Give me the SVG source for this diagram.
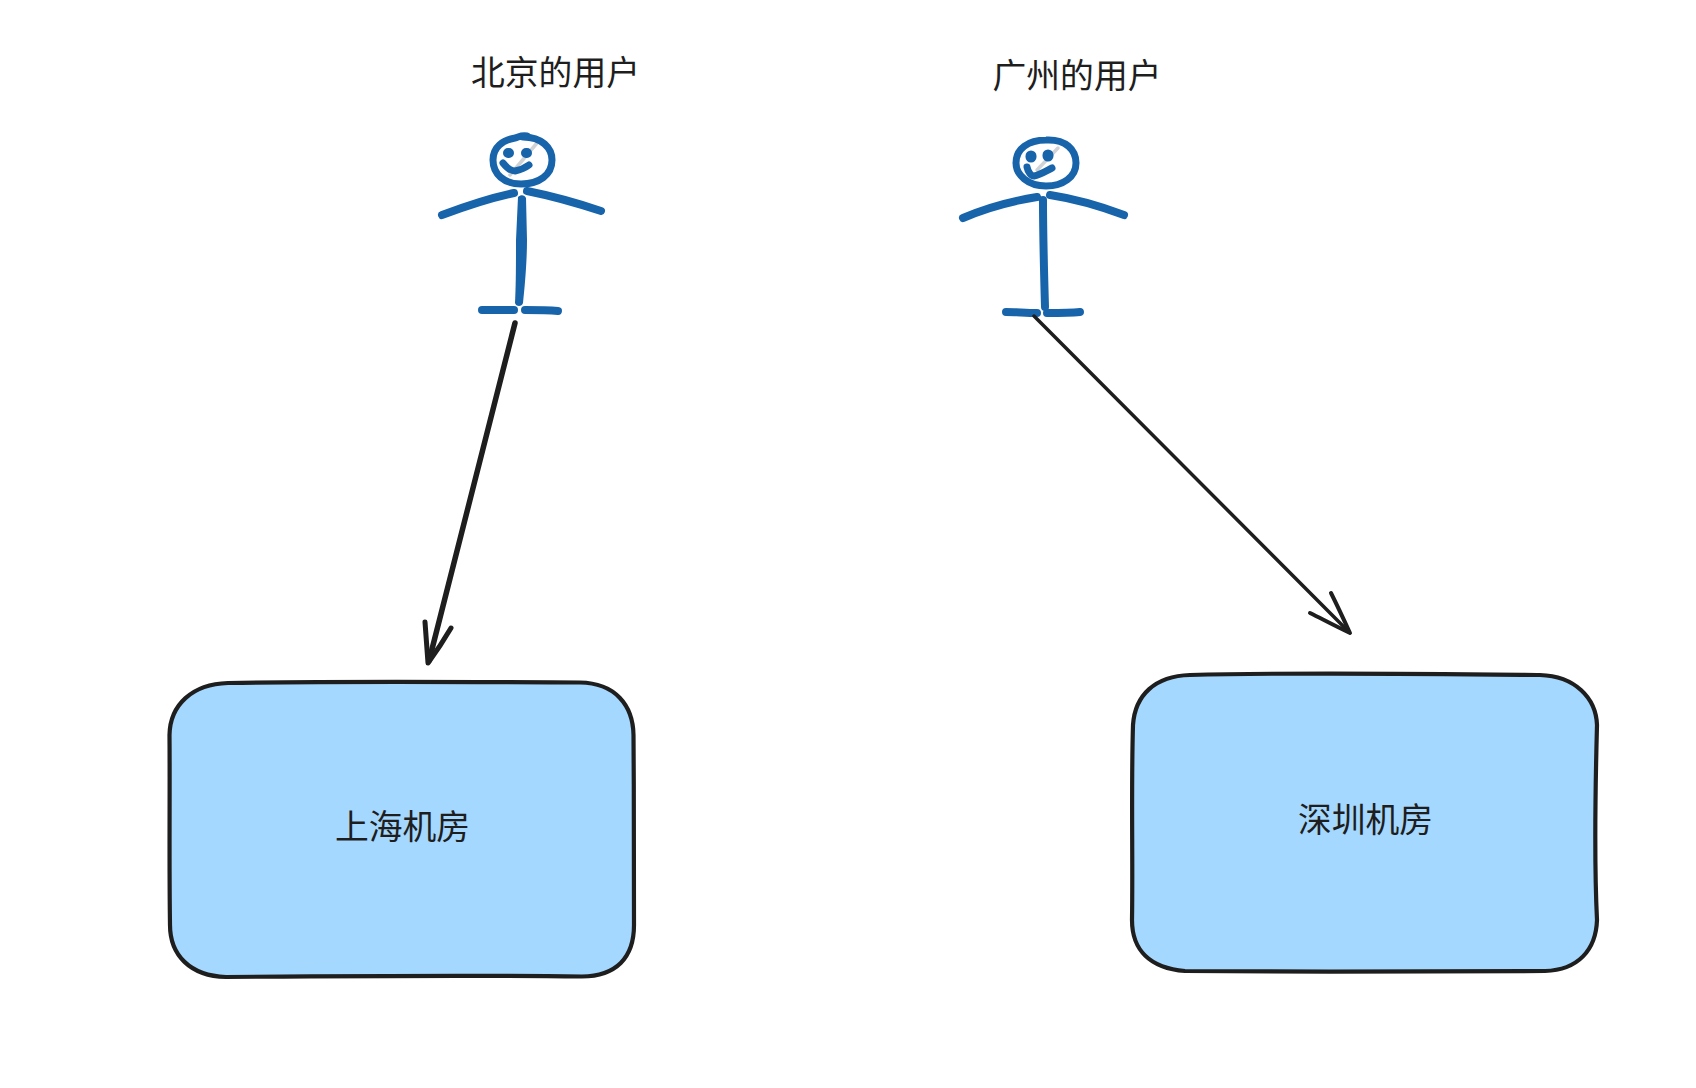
<svg xmlns="http://www.w3.org/2000/svg" width="1696" height="1088" viewBox="0 0 1696 1088">
<style>
.t{font-family:"Noto Sans CJK SC","Liberation Sans",sans-serif;font-size:33.800px;fill:#1e1e1e}
.m{text-anchor:middle}
.b{fill:none;stroke:#1864ab;stroke-width:8;stroke-linecap:round;stroke-linejoin:round}
.s{fill:none;stroke:#1864ab;stroke-width:7;stroke-linecap:round;stroke-linejoin:round}
.e{fill:none;stroke:#1864ab;stroke-width:10;stroke-linecap:round}
.g{fill:none;stroke:#d0d3d6;stroke-width:3.500;stroke-linecap:round}
.r{fill:#a5d8ff;stroke:#1e1e1e;stroke-width:4.200;stroke-linejoin:round}
.a{fill:none;stroke:#1e1e1e;stroke-linecap:round;stroke-linejoin:round}
</style>
<rect width="1696" height="1088" fill="#fff"/>
<g id="user-beijing">
<text class="t" x="471" y="85">北京的用户</text>
<path class="g" d="M537 143L510 175"/>
<path class="s" d="M523 137C542 137 552 148 552 160C552 175 539 184 521 184C504 184 493 174 493 160C493 147 503 140 515 138C519 137 521 135 527 136"/>
<path class="e" d="M508 153L509 153M526 153L527 153"/>
<path class="s" d="M503 163C507 168 511 171 515 171C520 170 525 168 529 165"/>
<path class="b" d="M442 215C466 206 490 198 514 193"/>
<path class="b" d="M527 191C552 196 577 203 601 211"/>
<path d="M518 197C521 194 525 195 526 198L527 240C527 260 525 285 523 303C522 307 516 307 515 303C516 285 516 262 516 240Z" fill="#1864ab"/>
<path class="b" d="M482 310L514 310"/>
<path class="b" d="M525 310C536 310 547 310 558 311"/>
</g>
<g id="user-guangzhou">
<text class="t" x="992.500" y="88">广州的用户</text>
<path class="g" d="M1058 148L1037 170"/>
<path class="s" d="M1046 140C1066 139 1076 150 1076 163C1076 177 1063 186 1046 186C1028 186 1016 175 1016 163C1016 149 1028 140 1046 140Z"/>
<path class="e" style="stroke-width:11" d="M1031 156L1031 157M1048 155L1048 156"/>
<path class="s" d="M1027 167C1028 172 1031 176 1034 176C1040 175 1046 171 1052 168"/>
<path class="b" d="M963 218C986 208 1012 201 1037 197"/>
<path class="b" d="M1050 195C1076 199 1100 206 1124 215"/>
<path class="b" d="M1043 200C1043 235 1044 272 1045 307"/>
<path class="b" d="M1006 312C1016 312 1026 313 1037 313"/>
<path class="b" d="M1047 313C1058 313 1070 313 1080 312"/>
</g>
<g id="idc-shanghai">
<path class="r" d="M228 683C340 681 480 682 580 682.500C615 683 633 705 633.500 735C634 800 634 870 634 925C634 958 616 976 582 976.500C470 975 340 976 226 977C190 976 170 955 170 925C169 860 170 790 169.500 735C170 705 192 684 228 683Z"/>
<text class="t m" x="402.500" y="839">上海机房</text>
</g>
<g id="idc-shenzhen">
<path class="r" d="M1190 675C1300 672 1450 674 1540 675C1575 676 1596 698 1597 725C1595 800 1595 880 1597 920C1596 950 1578 970 1545 971C1450 972 1300 972 1185 971C1150 968 1132 950 1132 920C1133 860 1131 790 1133 725C1135 695 1155 676 1190 675Z"/>
<text class="t m" x="1365.500" y="832">深圳机房</text>
</g>
<g id="connectors">
<path class="a" stroke-width="5.500" d="M515 323L429 661"/>
<path class="a" stroke-width="5" d="M425 622C426 636 427 650 428 663C436 652 444 640 451 628"/>
<path class="a" stroke-width="3.500" d="M1034 316L1349 632"/>
<path class="a" stroke-width="4" d="M1331 593C1338 607 1344 620 1350 633C1337 627 1324 620 1310 613"/>
</g>
</svg>
